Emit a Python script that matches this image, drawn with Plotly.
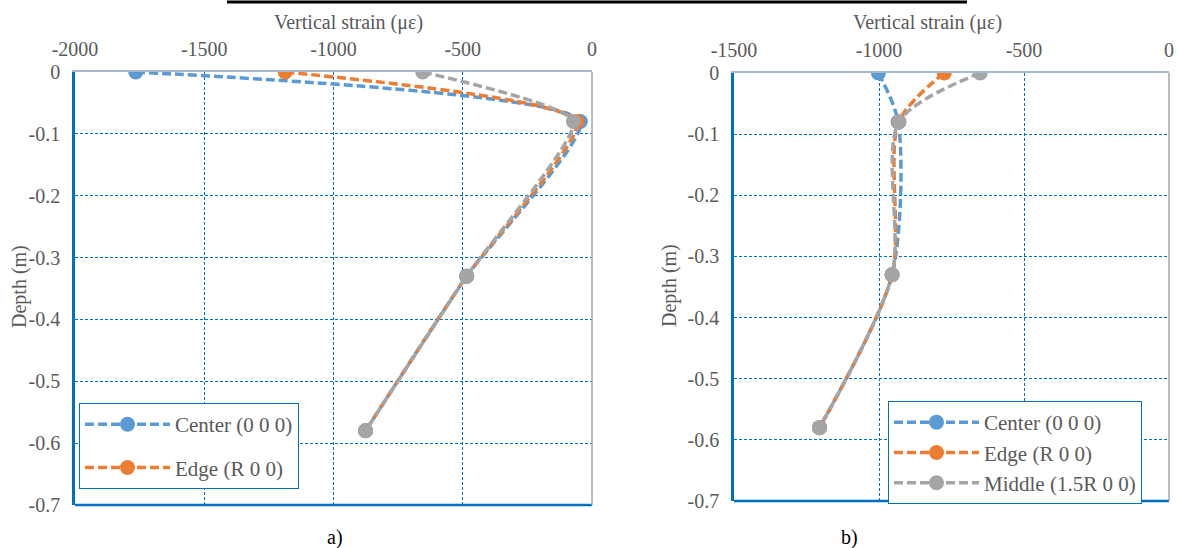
import plotly.graph_objects as go

# ---- data ----
depth = [0, -0.08, -0.33, -0.58]
a_center = [-1765, -45, -485, -876]
a_edge = [-1187, -58, -485, -876]
a_middle = [-655, -72, -485, -876]
b_center = [-1002, -934, -955, -1205]
b_edge = [-775, -932, -955, -1205]
b_middle = [-651, -931, -955, -1205]

names = ["Center (0 0 0)", "Edge (R 0 0)", "Middle (1.5R 0 0)"]
colors = ["#5B9BD5", "#ED7D31", "#A5A5A5"]

xa_ticks = [-2000, -1500, -1000, -500, 0]
xa_text = ["-2000", "-1500", "-1000", "-500", "0"]
xb_ticks = [-1500, -1000, -500, 0]
xb_text = ["-1500", "-1000", "-500", "0"]
y_ticks = [0, -0.1, -0.2, -0.3, -0.4, -0.5, -0.6, -0.7]
y_text = ["0", "-0.1", "-0.2", "-0.3", "-0.4", "-0.5", "-0.6", "-0.7"]

x_title = "Vertical strain (με)"
y_title = "Depth (m)"
panel_labels = ["a)", "b)"]

W, H = 1181, 548
FONT = "Liberation Serif, Times New Roman, serif"
GRAY = "#595959"
BLUE = "#0070C0"

fig = go.Figure()

for i, (vals, nm, col) in enumerate(zip([a_center, a_edge, a_middle], names, colors)):
    fig.add_trace(go.Scatter(
        x=vals, y=depth, name=nm, mode="lines+markers",
        line=dict(color=col, width=3.5, dash="9px,4px", shape="spline", smoothing=0.5),
        marker=dict(color=col, size=15),
        xaxis="x", yaxis="y", legend="legend", legendgroup="a%d" % i,
        showlegend=(i < 2)))

for i, (vals, nm, col) in enumerate(zip([b_center, b_edge, b_middle], names, colors)):
    fig.add_trace(go.Scatter(
        x=vals, y=depth, name=nm, mode="lines+markers",
        line=dict(color=col, width=3.5, dash="9px,4px", shape="spline", smoothing=0.8),
        marker=dict(color=col, size=15),
        xaxis="x2", yaxis="y2", legend="legend2", legendgroup="b%d" % i))

def xax(domain, rng, tv, tt, anchor):
    return dict(domain=domain, range=rng, side="top", tickvals=tv, ticktext=tt,
                showgrid=True, gridcolor=BLUE, griddash="3px,2px", gridwidth=1,
                zeroline=False, showline=True, linecolor="#A9B9CB", linewidth=2,
                ticks="", ticklabelstandoff=6,
                tickfont=dict(family=FONT, size=20, color=GRAY),
                anchor=anchor, automargin=False, fixedrange=True)

def yax(domain, anchor):
    return dict(domain=domain, range=[-0.7, 0], tickvals=y_ticks, ticktext=y_text,
                showgrid=True, gridcolor=BLUE, griddash="3px,2px", gridwidth=1,
                zeroline=False, showline=True, linecolor=BLUE, linewidth=2.5,
                ticks="", ticklabelstandoff=8,
                tickfont=dict(family=FONT, size=20, color=GRAY),
                anchor=anchor, automargin=False, fixedrange=True)

fig.update_layout(
    width=W, height=H, margin=dict(l=0, r=0, t=0, b=0),
    paper_bgcolor="white", plot_bgcolor="white",
    xaxis=xax([75 / W, 592 / W], [-2000, 0], xa_ticks, xa_text, "y"),
    yaxis=yax([1 - 505 / H, 1 - 72 / H], "x"),
    xaxis2=xax([734 / W, 1169 / W], [-1500, 0], xb_ticks, xb_text, "y2"),
    yaxis2=yax([1 - 501 / H, 1 - 73 / H], "x2"),
    legend=dict(x=79 / W, y=1 - 403 / H, xanchor="left", yanchor="top",
                bgcolor="white", bordercolor=BLUE, borderwidth=1,
                font=dict(family=FONT, size=21, color=GRAY),
                tracegroupgap=13, itemwidth=85),
    legend2=dict(x=888 / W, y=1 - 401 / H, xanchor="left", yanchor="top",
                 bgcolor="white", bordercolor=BLUE, borderwidth=1,
                 font=dict(family=FONT, size=21, color=GRAY),
                 tracegroupgap=0, itemwidth=85),
    showlegend=True,
)

shapes = []
for xr, yr in [("x domain", "y domain"), ("x2 domain", "y2 domain")]:
    shapes.append(dict(type="line", xref=xr, yref=yr, x0=0, x1=1, y0=0, y1=0,
                       line=dict(color=BLUE, width=2.5)))
    shapes.append(dict(type="line", xref=xr, yref=yr, x0=1, x1=1, y0=0, y1=1,
                       line=dict(color="#A6A6A6", width=1.5)))
shapes.append(dict(type="line", xref="paper", yref="paper", x0=227 / W, x1=967 / W,
                   y0=1 - 2 / H, y1=1 - 2 / H, line=dict(color="black", width=3)))
fig.update_layout(shapes=shapes)

# axis titles
for xc, lab in [(348, x_title), (928, x_title)]:
    fig.add_annotation(text=lab, x=xc / W, y=1 - 22 / H, xref="paper", yref="paper",
                       showarrow=False, xanchor="center", yanchor="middle",
                       font=dict(family=FONT, size=20, color=GRAY))
for xc in [19, 669]:
    fig.add_annotation(text=y_title, x=xc / W, y=1 - 286 / H, xref="paper", yref="paper",
                       showarrow=False, textangle=-90, xanchor="center", yanchor="middle",
                       font=dict(family=FONT, size=20, color=GRAY))
for xc, lab in [(335, panel_labels[0]), (849, panel_labels[1])]:
    fig.add_annotation(text=lab, x=xc / W, y=1 - 537 / H, xref="paper", yref="paper",
                       showarrow=False, xanchor="center", yanchor="middle",
                       font=dict(family=FONT, size=20, color="black"))

fig.write_html("out.html", config={"displayModeBar": False},
               post_script="document.body.style.margin='0';document.body.style.overflow='hidden';")
